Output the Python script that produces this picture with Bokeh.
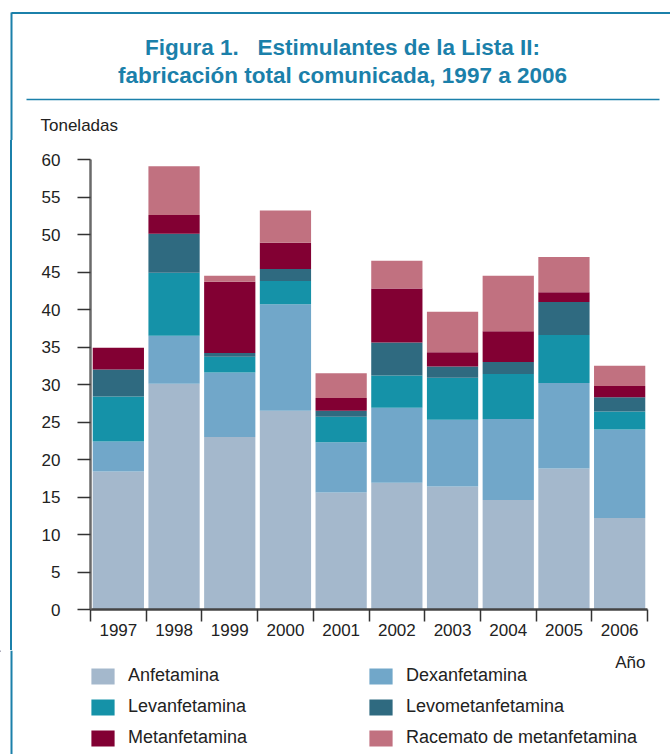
from bokeh.plotting import figure
from bokeh.layouts import column, row
from bokeh.models import (Range1d, FixedTicker, Legend, LegendItem, Label,
                          ColumnDataSource, Spacer)
from bokeh.embed import file_html
from bokeh.resources import INLINE

# ---- data ----
years = ["1997", "1998", "1999", "2000", "2001", "2002", "2003", "2004", "2005", "2006"]
anfetamina = [18.4, 30.1, 23.0, 26.5, 15.6, 16.9, 16.4, 14.6, 18.8, 12.2]
dexanfetamina = [4.0, 6.4, 8.6, 14.2, 6.7, 10.0, 8.9, 10.8, 11.4, 11.8]
levanfetamina = [6.0, 8.4, 2.1, 3.1, 3.4, 4.3, 5.6, 6.0, 6.4, 2.4]
levometanfetamina = [3.6, 5.2, 0.5, 1.6, 0.8, 4.4, 1.5, 1.6, 4.4, 1.9]
metanfetamina = [2.9, 2.5, 9.5, 3.5, 1.7, 7.2, 1.9, 4.1, 1.3, 1.5]
racemato = [0.0, 6.5, 0.8, 4.3, 3.3, 3.7, 5.4, 7.4, 4.7, 2.7]
series_names = ["Anfetamina", "Dexanfetamina", "Levanfetamina",
                "Levometanfetamina", "Metanfetamina", "Racemato de metanfetamina"]
y_ticks = [0, 5, 10, 15, 20, 25, 30, 35, 40, 45, 50, 55, 60]
title_lines = ["Figura 1.\u00a0\u00a0 Estimulantes de la Lista II:",
               "fabricación total comunicada, 1997 a 2006"]
y_unit = "Toneladas"
x_unit = "Año"

colors = ["#a4b8cc", "#71a7c9", "#1592a8", "#2f6a80", "#820033", "#c17180"]
FONT = "Liberation Sans"
BLUE = "#1b80aa"
TXT = "#222222"

W = 670
HEAD_H, MAIN_H, FOOT_H = 140, 510, 104

LINE_CSS = {"background-image": f"linear-gradient({BLUE}, {BLUE})",
            "background-position": "10px 0",
            "background-size": "2px 100%",
            "background-repeat": "no-repeat"}


def canvas_fig(w, h):
    f = figure(width=w, height=h, output_backend="svg", toolbar_location=None,
               title=None, x_range=Range1d(0, w), y_range=Range1d(h, 0),
               x_axis_location=None, y_axis_location=None,
               min_border=0, min_border_left=0, min_border_right=0,
               min_border_top=0, min_border_bottom=0,
               outline_line_color=None, background_fill_color="white",
               border_fill_color="white")
    f.grid.visible = False
    return f


# ---- header ----
head = canvas_fig(W, HEAD_H)
head.segment(x0=[11], y0=[12.5], x1=[W], y1=[12.5], line_color=BLUE, line_width=2)
head.segment(x0=[11], y0=[12], x1=[11], y1=[HEAD_H], line_color=BLUE, line_width=2)
head.segment(x0=[26], y0=[99], x1=[659], y1=[99], line_color=BLUE, line_width=1.5)
for ty, txt in zip([47, 75], title_lines):
    head.add_layout(Label(x=342, y=ty, text=txt, text_font=FONT,
                          text_font_style="bold", text_font_size="22.5px",
                          text_color=BLUE, text_align="center",
                          text_baseline="middle"))
head.add_layout(Label(x=40, y=125, text=y_unit, text_font=FONT,
                      text_font_size="17px", text_color=TXT,
                      text_align="left", text_baseline="middle"))

# ---- main chart ----
strip = Spacer(width=20, height=MAIN_H, styles=dict(LINE_CSS))

n = len(years)
centers = [i + 0.5 for i in range(n)]
bounds = [float(i) for i in range(n + 1)]

src = ColumnDataSource(dict(
    x=centers,
    s0=anfetamina, s1=dexanfetamina, s2=levanfetamina,
    s3=levometanfetamina, s4=metanfetamina, s5=racemato,
))

p = figure(width=W - 20, height=MAIN_H, output_backend="svg", toolbar_location=None,
           title=None, x_range=Range1d(0, n), y_range=Range1d(0, 60),
           min_border_left=70, min_border_right=23, min_border_top=19,
           min_border_bottom=41, outline_line_color=None,
           background_fill_color="white", border_fill_color="white")
p.xgrid.visible = False
p.ygrid.visible = False

rs = p.vbar_stack(["s0", "s1", "s2", "s3", "s4", "s5"], x="x", width=0.92,
                  color=colors, line_color=None, source=src)

ya = p.yaxis[0]
ya.ticker = FixedTicker(ticks=y_ticks, minor_ticks=[])
ya.axis_line_color = "#6a6a6a"
ya.axis_line_width = 2.5
ya.major_tick_line_color = "#333333"
ya.major_tick_line_width = 1.5
ya.major_tick_out = 13
ya.major_tick_in = 0
ya.minor_tick_line_color = None
ya.major_label_standoff = 17
ya.major_label_text_font = FONT
ya.major_label_text_font_size = "17px"
ya.major_label_text_color = TXT

xa = p.xaxis[0]
xa.ticker = FixedTicker(ticks=centers, minor_ticks=bounds)
xa.major_label_overrides = {c: y for c, y in zip(centers, years)}
xa.axis_line_color = "#444444"
xa.axis_line_width = 2.5
xa.major_tick_line_color = None
xa.major_tick_out = 0
xa.major_tick_in = 0
xa.minor_tick_line_color = "#333333"
xa.minor_tick_line_width = 1.5
xa.minor_tick_out = 12
xa.minor_tick_in = 0
xa.major_label_standoff = 2
xa.major_label_text_font = FONT
xa.major_label_text_font_size = "17px"
xa.major_label_text_color = TXT

main_row = row(strip, p, styles=dict(LINE_CSS))

# ---- footer: unit label and legend ----
foot = canvas_fig(W, FOOT_H)
foot.segment(x0=[11], y0=[0], x1=[11], y1=[FOOT_H], line_color=BLUE, line_width=2)
foot.add_layout(Label(x=645, y=12, text=x_unit, text_font=FONT,
                      text_font_size="17px", text_color=TXT,
                      text_align="right", text_baseline="middle"))
# legend keys (off-canvas swatch renderers with the series colours)
swatches = [foot.vbar(x=[-1000], top=[1], bottom=[0], width=1, color=c, line_color=None)
            for c in colors]
legend = Legend(items=[LegendItem(label=nm, renderers=[r]) for nm, r in zip(series_names, swatches)],
                location=(88, 6), orientation="horizontal", ncols=2,
                glyph_width=29, glyph_height=20, label_height=20, label_width=228,
                label_standoff=11, spacing=10, padding=0, margin=0,
                border_line_color=None, background_fill_alpha=0,
                label_text_font=FONT, label_text_font_size="18px",
                label_text_color=TXT, label_text_baseline="middle")
foot.add_layout(legend, "center")

layout = column(head, main_row, foot)
open("out.html", "w").write(file_html(layout, INLINE))
